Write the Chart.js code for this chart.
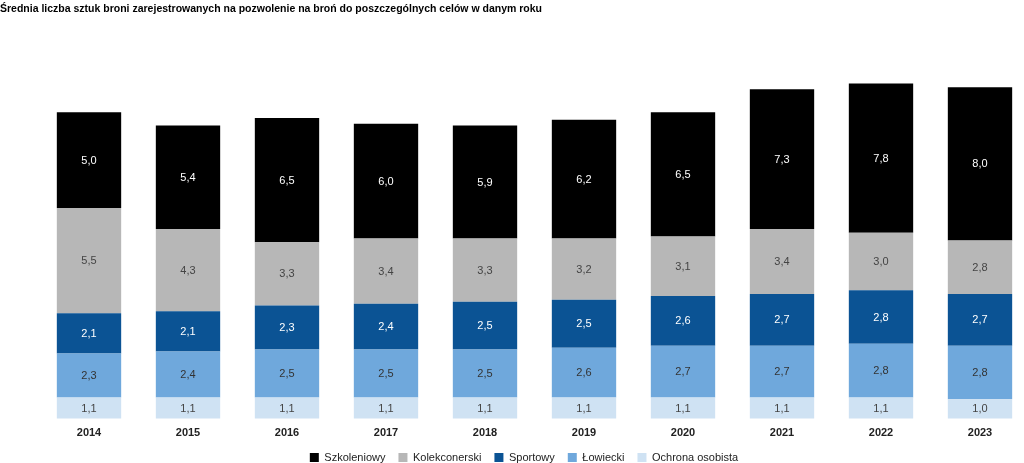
<!DOCTYPE html>
<html><head><meta charset="utf-8">
<script src="https://cdn.jsdelivr.net/npm/chart.js@4.4.1/dist/chart.umd.min.js"></script>
<style>html,body{margin:0;padding:0;background:#fff;overflow:hidden}#wrap{width:1024px;height:463px;position:relative}</style>
</head><body><div id="wrap"><canvas id="c" width="1024" height="463"></canvas></div>
<script>
const titleText = "Średnia liczba sztuk broni zarejestrowanych na pozwolenie na broń do poszczególnych celów w danym roku";
const years = ["2014","2015","2016","2017","2018","2019","2020","2021","2022","2023"];
const seriesNames = ["Szkoleniowy","Kolekconerski","Sportowy","Łowiecki","Ochrona osobista"];
const szkoleniowy = [5.0,5.4,6.5,6.0,5.9,6.2,6.5,7.3,7.8,8.0];
const kolekcjonerski = [5.5,4.3,3.3,3.4,3.3,3.2,3.1,3.4,3.0,2.8];
const sportowy = [2.1,2.1,2.3,2.4,2.5,2.5,2.6,2.7,2.8,2.7];
const lowiecki = [2.3,2.4,2.5,2.5,2.5,2.6,2.7,2.7,2.8,2.8];
const ochrona = [1.1,1.1,1.1,1.1,1.1,1.1,1.1,1.1,1.1,1.0];
const colors = ["#000000","#b7b7b7","#0b5394","#6fa8dc","#cfe2f3"];
const labelColors = ["#ffffff","#444444","#ffffff","#333333","#444444"];

const FONT = "'Liberation Sans', Arial, sans-serif";
const mk = (i, data) => ({label: seriesNames[i], data, backgroundColor: colors[i], borderWidth: 0,
  barPercentage: 0.65, categoryPercentage: 1.0, clip: false, valueColor: labelColors[i]});
// stack order bottom->top: Ochrona, Łowiecki, Sportowy, Kolekcjonerski, Szkoleniowy
const datasets = [mk(4, ochrona), mk(3, lowiecki), mk(2, sportowy), mk(1, kolekcjonerski), mk(0, szkoleniowy)];

const valueLabels = {
  id: 'valueLabels',
  afterDatasetsDraw(chart) {
    const ctx = chart.ctx;
    ctx.save();
    ctx.font = "11px " + FONT;
    ctx.textAlign = 'center';
    ctx.textBaseline = 'middle';
    chart.data.datasets.forEach((ds, di) => {
      const meta = chart.getDatasetMeta(di);
      meta.data.forEach((bar, i) => {
        const v = ds.data[i];
        const y = (bar.y + bar.base) / 2;
        ctx.fillStyle = ds.valueColor;
        ctx.fillText(v.toFixed(1).replace('.', ','), bar.x, y + 0.5);
      });
    });
    ctx.restore();
  }
};

const legendShift = {
  id: 'legendShift',
  afterLayout(chart) {
    if (chart.legend) { chart.legend.left += 24; }
  }
};

new Chart(document.getElementById('c'), {
  type: 'bar',
  data: {labels: years, datasets},
  plugins: [valueLabels, legendShift],
  options: {
    responsive: false,
    animation: false,
    layout: {padding: {left: 0, right: 0, top: 0, bottom: -10}},
    plugins: {
      title: {display: true, text: titleText, align: 'start', color: '#000',
        font: {family: FONT, size: 10.5, weight: 'bold'}, padding: {top: 3, bottom: 20}},
      legend: {position: 'bottom', reverse: true,
        labels: {boxWidth: 9, boxHeight: 9, padding: 13, color: '#222',
          font: {family: FONT, size: 11}}},
      tooltip: {enabled: false}
    },
    scales: {
      x: {stacked: true, offset: false,
        grid: {display: false}, border: {display: false},
        ticks: {color: '#222', font: {family: FONT, size: 11, weight: 'bold'}, padding: 0},
        afterFit(s) { s.height = 20.5; }},
      y: {stacked: true, min: 0, max: 20, display: true,
        grid: {display: false}, border: {display: false},
        ticks: {display: false},
        afterFit(s) { s.width = 89; }},
      y2: {position: 'right', display: true, min: 0, max: 20,
        grid: {display: false}, border: {display: false},
        ticks: {display: false},
        afterFit(s) { s.width = 44; }}
    }
  }
});
</script></body></html>
